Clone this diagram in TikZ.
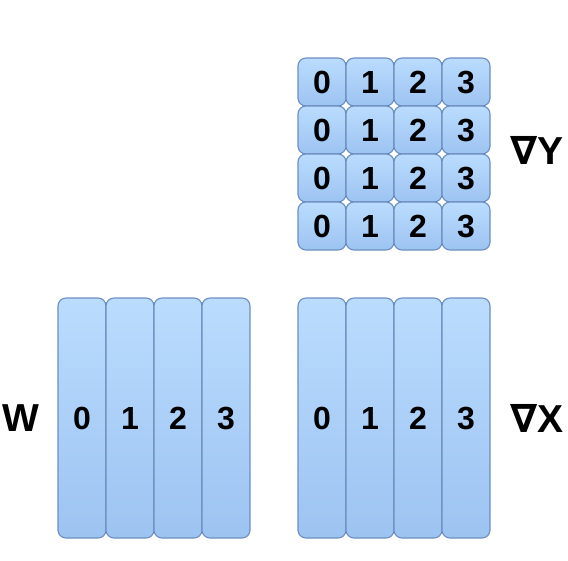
\documentclass[tikz,border=0pt]{standalone}
\usepackage{fontspec}
\setmainfont{Liberation Sans}
\newfontfamily\nablafont{DejaVu Sans}
\usepackage{xcolor}
\usetikzlibrary{positioning}

\definecolor{celltop}{HTML}{BADCFE}
\definecolor{cellbot}{HTML}{9DC3F1}
\definecolor{cellline}{HTML}{6C8EBF}

\begin{document}
\begin{tikzpicture}[
  x=1pt, y=1pt,
  node distance=0pt and 0pt,
  cell/.style={draw=cellline, line width=1.1pt, rounded corners=8pt, top color=celltop, bottom color=cellbot,
    minimum width=48pt, minimum height=48pt, inner sep=0pt, outer sep=0pt, text height=23pt, text depth=0pt,
    font=\bfseries\fontsize{32}{32}\selectfont},
  strip/.style={cell, minimum height=240pt},
  tag/.style={inner sep=0pt, font=\bfseries\fontsize{39}{39}\selectfont}
]
\useasboundingbox (0,0) rectangle (568,-560);
% gradient dY, 4x4
\node[cell] (g00) at (322,-82) {0};
\node[cell, right=of g00] (g01) {1};
\node[cell, right=of g01] (g02) {2};
\node[cell, right=of g02] (g03) {3};
\node[cell, below=of g00] (g10) {0};
\node[cell, right=of g10] (g11) {1};
\node[cell, right=of g11] (g12) {2};
\node[cell, right=of g12] (g13) {3};
\node[cell, below=of g10] (g20) {0};
\node[cell, right=of g20] (g21) {1};
\node[cell, right=of g21] (g22) {2};
\node[cell, right=of g22] (g23) {3};
\node[cell, below=of g20] (g30) {0};
\node[cell, right=of g30] (g31) {1};
\node[cell, right=of g31] (g32) {2};
\node[cell, right=of g32] (g33) {3};
% weights
\node[strip] (w0) at (82,-418) {0};
\node[strip, right=of w0] (w1) {1};
\node[strip, right=of w1] (w2) {2};
\node[strip, right=of w2] (w3) {3};
% gradient dX
\node[strip] (x0) at (322,-418) {0};
\node[strip, right=of x0] (x1) {1};
\node[strip, right=of x1] (x2) {2};
\node[strip, right=of x2] (x3) {3};
% labels
\node[tag] (lw) at (21,-418) {W};
\node[tag] (ldy) at (537,-150) {{\nablafont\char"2207}Y};
\node[tag] (ldx) at (537,-418) {{\nablafont\char"2207}X};
\end{tikzpicture}
\end{document}
